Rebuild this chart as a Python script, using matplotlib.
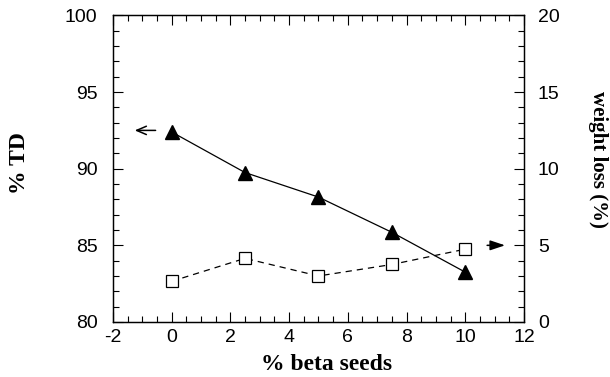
import numpy as np
import matplotlib.pyplot as plt
from matplotlib.ticker import MultipleLocator

plt.rcParams['axes.unicode_minus'] = False

# beta-seed loading (%) and measured properties
seeds = [0, 2.5, 5, 7.5, 10]
td = [92.4, 89.75, 88.15, 85.85, 83.25]
weight_loss = [2.65, 4.15, 3.0, 3.75, 4.75]

tick_font = {'family': 'Liberation Sans', 'size': 14}
label_font = {'family': 'Liberation Serif', 'size': 17, 'weight': 'bold'}
right_font = dict(label_font, size=15)

fig = plt.figure(figsize=(6.1, 3.77), dpi=100)
ax = fig.add_axes([0.185, 0.146, 0.674, 0.813])
ax2 = ax.twinx()

ax.plot(seeds, td, 'k-', marker='^', markersize=9.5, lw=0.9, zorder=3)
ax2.plot(seeds, weight_loss, 'k--', marker='s', markersize=9, mfc='white',
         mew=0.9, lw=0.9, dashes=(5, 4), zorder=3)

ax.set_xlim(-2, 12)
ax.set_ylim(80, 100)
ax2.set_ylim(0, 20)

ax.xaxis.set_major_locator(MultipleLocator(2))
ax.xaxis.set_minor_locator(MultipleLocator(0.5))
for a in (ax, ax2):
    a.yaxis.set_major_locator(MultipleLocator(5))
    a.yaxis.set_minor_locator(MultipleLocator(1))

ax.tick_params(which='both', direction='in', top=True, right=False, width=0.8)
ax.tick_params(which='major', length=7)
ax.tick_params(which='minor', length=4)
ax.tick_params(axis='x', which='major', pad=5)
ax.tick_params(axis='y', which='major', pad=11)
ax2.tick_params(which='both', direction='in', width=0.8)
ax2.tick_params(which='major', length=7, pad=10)
ax2.tick_params(which='minor', length=4)

for lab in ax.get_xticklabels() + ax.get_yticklabels() + ax2.get_yticklabels():
    lab.set_fontfamily(tick_font['family'])
    lab.set_fontsize(tick_font['size'])

for a in (ax, ax2):
    for s in a.spines.values():
        s.set_linewidth(0.9)

ax.set_xlabel('% beta seeds', fontdict=label_font, labelpad=6)
ax.set_ylabel('% TD', fontdict=label_font, labelpad=25)
ax2.set_ylabel('weight loss (%)', fontdict=right_font, rotation=270, labelpad=35)
ax.xaxis.label.set_x(0.52)
ax.yaxis.label.set_y(0.52)
ax2.yaxis.label.set_y(0.53)

# arrows indicating which axis each series belongs to
ax.annotate('', xy=(-1.35, 92.5), xytext=(-0.45, 92.5),
            arrowprops=dict(arrowstyle='->,head_length=0.7,head_width=0.3', lw=1.1, color='k'))
ax2.annotate('', xy=(11.45, 5.0), xytext=(10.65, 5.0),
             arrowprops=dict(arrowstyle='-|>,head_length=0.9,head_width=0.3', lw=1.1, color='k'))

fig.savefig('out.png', dpi=100)
